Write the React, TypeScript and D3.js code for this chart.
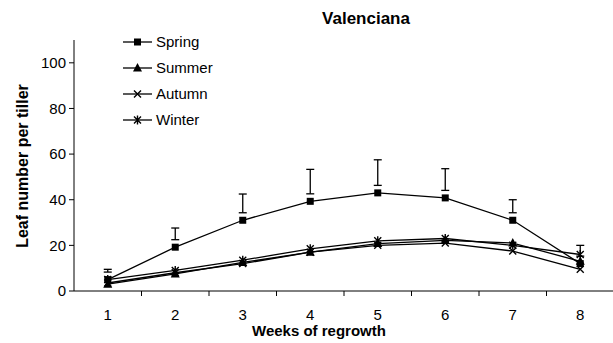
import React, { useEffect, useRef } from 'react';
import * as d3 from 'd3';

const weeks = ['1', '2', '3', '4', '5', '6', '7', '8'];
const spring = [5, 19.2, 31, 39.3, 43, 40.8, 31, 12];
const springErr = [4.5, 8.4, 11.5, 14, 14.5, 12.8, 9, 8];
const summer = [3, 7.5, 12.5, 17, 20.8, 22.2, 21, 13];
const autumn = [3.5, 8, 12, 17, 20, 21, 17.5, 9.5];
const winter = [5, 9, 13.5, 18.5, 22, 23, 20, 16];
const yTicks = [0, 20, 40, 60, 80, 100];
const seriesNames = ['Spring', 'Summer', 'Autumn', 'Winter'];

const App = () => {
  const ref = useRef(null);

  useEffect(() => {
    const width = 613;
    const height = 343;
    const left = 74;
    const right = 614;
    const top = 40;
    const bottom = 291;
    const font = 'Liberation Sans, Arial, sans-serif';

    const root = d3.select(ref.current);
    root.selectAll('*').remove();

    const svg = root
      .append('svg')
      .attr('width', width)
      .attr('height', height)
      .style('position', 'absolute')
      .style('left', '0px')
      .style('top', '0px')
      .style('background', '#fff');

    const x = d3.scaleBand().domain(weeks).range([left, right]);
    const y = d3.scaleLinear().domain([0, 110]).range([bottom, top]);
    const cx = (w) => x(w) + x.bandwidth() / 2;

    // title
    svg.append('text')
      .attr('x', 366).attr('y', 24)
      .attr('text-anchor', 'middle')
      .style('font-family', font).style('font-size', '17px').style('font-weight', 'bold')
      .text('Valenciana');

    // y axis
    svg.append('line')
      .attr('x1', left).attr('x2', left).attr('y1', top).attr('y2', bottom)
      .attr('stroke', '#000');
    yTicks.forEach(t => {
      svg.append('line')
        .attr('x1', left - 5).attr('x2', left).attr('y1', y(t)).attr('y2', y(t))
        .attr('stroke', '#000');
      svg.append('text')
        .attr('x', left - 8).attr('y', y(t)).attr('dy', '0.35em')
        .attr('text-anchor', 'end')
        .style('font-family', font).style('font-size', '15px')
        .text(t);
    });

    // x axis
    svg.append('line')
      .attr('x1', left).attr('x2', right).attr('y1', bottom).attr('y2', bottom)
      .attr('stroke', '#000');
    weeks.forEach((w, i) => {
      if (i > 0) {
        svg.append('line')
          .attr('x1', x(w)).attr('x2', x(w)).attr('y1', bottom).attr('y2', bottom + 5)
          .attr('stroke', '#000');
      }
      svg.append('text')
        .attr('x', cx(w)).attr('y', 320)
        .attr('text-anchor', 'middle')
        .style('font-family', font).style('font-size', '15px')
        .text(w);
    });

    // axis titles
    svg.append('text')
      .attr('x', 319).attr('y', 336)
      .attr('text-anchor', 'middle')
      .style('font-family', font).style('font-size', '15px').style('font-weight', 'bold')
      .text('Weeks of regrowth');
    svg.append('text')
      .attr('transform', 'translate(28,166) rotate(-90)')
      .attr('text-anchor', 'middle')
      .style('font-family', font).style('font-size', '16px').style('font-weight', 'bold')
      .text('Leaf number per tiller');

    // error bars (spring)
    weeks.forEach((w, i) => {
      const xp = cx(w);
      const y0 = y(spring[i]) - 7.5;
      const y1 = y(spring[i] + springErr[i]);
      const g = svg.append('g').attr('stroke', '#000').attr('stroke-width', 1.3);
      g.append('line').attr('x1', xp).attr('x2', xp).attr('y1', y0).attr('y2', y1);
      g.append('line').attr('x1', xp - 4).attr('x2', xp + 4).attr('y1', y0).attr('y2', y0);
      g.append('line').attr('x1', xp - 4).attr('x2', xp + 4).attr('y1', y1).attr('y2', y1);
    });

    // markers
    const marker = (g, type, px, py) => {
      if (type === 'Spring') {
        g.append('rect').attr('x', px - 3.5).attr('y', py - 3.5).attr('width', 7).attr('height', 7).attr('fill', '#000');
      } else if (type === 'Summer') {
        g.append('path').attr('d', `M${px},${py - 5}L${px + 4.5},${py + 3.5}L${px - 4.5},${py + 3.5}Z`).attr('fill', '#000');
      } else {
        const s = 3.5;
        g.append('path')
          .attr('d', `M${px - s},${py - s}L${px + s},${py + s}M${px - s},${py + s}L${px + s},${py - s}` +
            (type === 'Winter' ? `M${px},${py - 4.5}L${px},${py + 4.5}` : ''))
          .attr('stroke', '#000').attr('stroke-width', 1.4).attr('fill', 'none');
      }
    };

    const line = d3.line().x((d, i) => cx(weeks[i])).y(d => y(d));
    const all = [spring, summer, autumn, winter];
    all.forEach((vals) => {
      svg.append('path')
        .attr('d', line(vals))
        .attr('fill', 'none').attr('stroke', '#000').attr('stroke-width', 1.3);
    });
    all.forEach((vals, si) => {
      const g = svg.append('g');
      vals.forEach((v, i) => marker(g, seriesNames[si], cx(weeks[i]), y(v)));
    });

    // legend
    seriesNames.forEach((name, i) => {
      const ly = 42 + i * 26;
      const g = svg.append('g');
      g.append('line').attr('x1', 123).attr('x2', 152).attr('y1', ly).attr('y2', ly)
        .attr('stroke', '#000').attr('stroke-width', 1.3);
      marker(g, name, 137.5, ly);
      g.append('text')
        .attr('x', 156).attr('y', ly).attr('dy', '0.35em')
        .style('font-family', font).style('font-size', '15px')
        .text(name);
    });

    return () => {
      root.selectAll('*').remove();
    };
  }, []);

  return <div ref={ref}></div>;
};

export default App;
